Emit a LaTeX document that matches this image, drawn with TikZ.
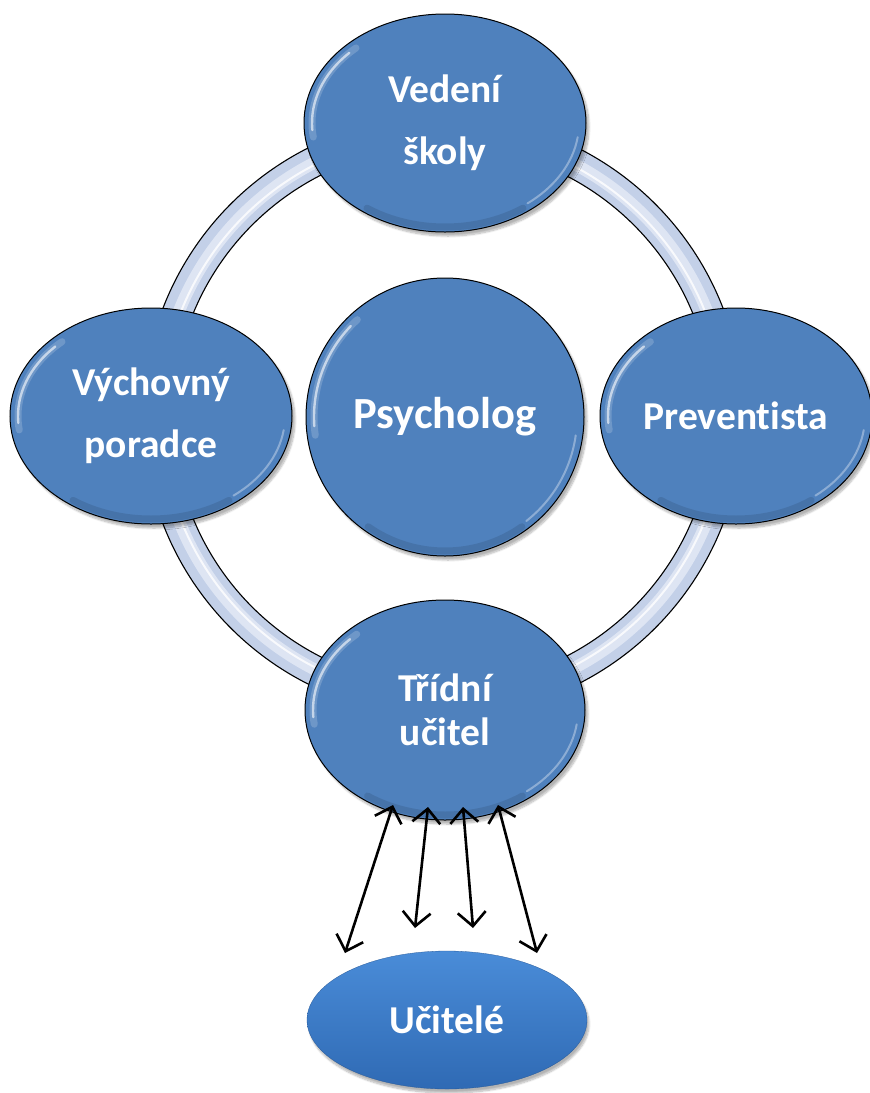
\documentclass[tikz,border=0pt]{standalone}
\usepackage{fontspec}
\setmainfont{Carlito}[Ligatures={NoCommon,NoRare}]
\usetikzlibrary{shapes.geometric,arrows.meta,shadows.blur,calc}
\definecolor{nodeblue}{HTML}{4F81BD}
\definecolor{ringblue}{HTML}{C3D0E8}
\definecolor{ringlight}{HTML}{E1E8F5}
\definecolor{ucitop}{HTML}{4A8CD8}
\definecolor{ucibot}{HTML}{2F6AB4}
\begin{document}
\begin{tikzpicture}[x=1pt,y=-1pt,
  bubble/.style={ellipse, draw=black, line width=1pt, fill=nodeblue, inner sep=0pt,
    text=white, font=\bfseries\fontsize{39.5}{62}\selectfont, align=center,
    blur shadow={shadow xshift=3pt, shadow yshift=-4pt, shadow opacity=30, shadow blur steps=8}},
  glowwide/.style={white, line width=7pt, opacity=0.18, line cap=round},
  glowcore/.style={white, line width=2.4pt, opacity=0.6, line cap=round},
  glowsoft/.style={white, line width=2pt, opacity=0.35, line cap=round},
  rimdark/.style={black, line width=7pt, opacity=0.10, line cap=round},
  barb/.tip={Straight Barb[length=14pt,width=28pt,line width=2.6pt]},
  link/.style={draw=black, line width=2.6pt, barb-barb}
]
\useasboundingbox (0,0) rectangle (870,1093);

% ring
\coordinate (ringc) at (443,416);
\fill[ringblue, even odd rule] (ringc) circle[radius=300] (ringc) circle[radius=270];
\draw[ringlight, line width=12pt, opacity=0.9] (ringc) circle[radius=284];
\draw[white, line width=2pt, opacity=0.8] (ringc) circle[radius=282];
\draw[black, line width=1.1pt] (ringc) circle[radius=300];
\draw[black, line width=1.1pt] (ringc) circle[radius=270];

% nodes
\node[bubble, minimum width=282pt, minimum height=218pt] (vs) at (445,123) {Vedení\\školy};
\node[bubble, minimum width=282pt, minimum height=216pt] (vp) at (151,416) {Výchovný\\poradce};
\node[bubble, minimum width=278pt, minimum height=278pt, font=\bfseries\fontsize{44.5}{52}\selectfont] (ps) at (445,417) {Psycholog};
\node[bubble, minimum width=272pt, minimum height=216pt] (pr) at (736,416) {Preventista};
\node[bubble, minimum width=280pt, minimum height=220pt, font=\bfseries\fontsize{39.5}{44}\selectfont] (tu) at (445,710) {Třídní\\učitel};

% bevel highlights
\foreach \c/\rx/\ry in {vs/141/109, vp/141/108, ps/139/139, pr/136/108, tu/140/110}{
  \draw[rimdark] ($(\c.center)+({(\rx-5)*cos(55)},{(\ry-5)*sin(55)})$)
     arc[start angle=55, end angle=125, x radius=\rx-5, y radius=\ry-5];
  \draw[glowwide] ($(\c.center)+({(\rx-8)*cos(172)},{(\ry-8)*sin(172)})$)
     arc[start angle=172, end angle=228, x radius=\rx-8, y radius=\ry-8];
  \draw[glowcore] ($(\c.center)+({(\rx-8)*cos(176)},{(\ry-8)*sin(176)})$)
     arc[start angle=176, end angle=224, x radius=\rx-8, y radius=\ry-8];
  \draw[glowsoft] ($(\c.center)+({(\rx-7)*cos(8)},{(\ry-7)*sin(8)})$)
     arc[start angle=8, end angle=52, x radius=\rx-7, y radius=\ry-7];
}

% teachers
\node[ellipse, minimum width=280pt, minimum height=138pt, inner sep=0pt,
  top color=ucitop, bottom color=ucibot, draw=ucibot!85!black, line width=0.3pt,
  blur shadow={shadow xshift=2pt, shadow yshift=-4pt, shadow opacity=30, shadow blur steps=8},
  text=white, font=\bfseries\fontsize{39.5}{46}\selectfont] (uc) at (447,1020) {Učitelé};

% arrows
\draw[link] ($(tu.center)+(-52,95)$) -- ($(uc.center)+(-102,-67)$);
\draw[link] ($(tu.center)+(-17,97)$) -- ($(uc.center)+(-32,-92)$);
\draw[link] ($(tu.center)+(18,97)$) -- ($(uc.center)+(26,-92)$);
\draw[link] ($(tu.center)+(53,95)$) -- ($(uc.center)+(90,-67)$);
\end{tikzpicture}
\end{document}
